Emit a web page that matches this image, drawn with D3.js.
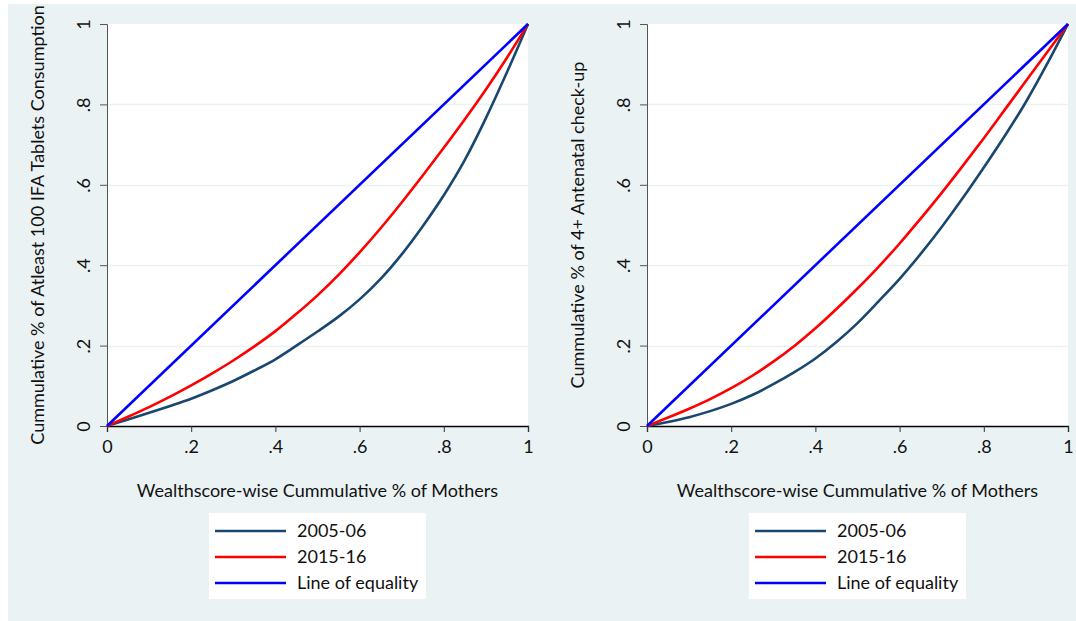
<!DOCTYPE html>
<html>
<head>
<meta charset="utf-8">
<script src="https://cdn.jsdelivr.net/npm/d3@7"></script>
<style>
  body { margin: 0; background: #fff; }
  text { font-family: Lato, "Open Sans", sans-serif; fill: #111; }
</style>
</head>
<body>
<div id="chart"></div>
<script>
// Concentration curves at steps of 0.05
const cumMothers = [0, 0.05, 0.1, 0.15, 0.2, 0.25, 0.3, 0.35, 0.4, 0.45, 0.5,
                    0.55, 0.6, 0.65, 0.7, 0.75, 0.8, 0.85, 0.9, 0.95, 1];

// left panel: IFA tablets
const ifa2005 = [0, 0.016, 0.033, 0.05, 0.068, 0.089, 0.112, 0.138, 0.166, 0.2, 0.235,
                 0.272, 0.315, 0.366, 0.427, 0.497, 0.574, 0.662, 0.766, 0.88, 1];
const ifa2015 = [0, 0.023, 0.047, 0.073, 0.101, 0.131, 0.163, 0.198, 0.236, 0.279, 0.325,
                 0.376, 0.432, 0.492, 0.556, 0.623, 0.692, 0.763, 0.837, 0.916, 1];

// right panel: 4+ ANC visits
const anc2005 = [0, 0.01, 0.022, 0.037, 0.055, 0.077, 0.104, 0.134, 0.168, 0.209, 0.256,
                 0.31, 0.366, 0.428, 0.495, 0.567, 0.643, 0.722, 0.806, 0.9, 1];
const anc2015 = [0, 0.021, 0.043, 0.067, 0.094, 0.125, 0.16, 0.199, 0.243, 0.291, 0.342,
                 0.396, 0.454, 0.516, 0.58, 0.647, 0.716, 0.787, 0.858, 0.929, 1];

const equalityX = [0, 1];
const equalityY = [0, 1];

const ticks = [0, 0.2, 0.4, 0.6, 0.8, 1];
const tickLabels = ["0", ".2", ".4", ".6", ".8", "1"];
const seriesNames = ["2005-06", "2015-16", "Line of equality"];
const seriesColors = ["#1a476f", "#ff0000", "#0000ff"];

const xTitle = "Wealthscore-wise Cummulative % of Mothers";
const yTitles = ["Cummulative % of Atleast 100 IFA Tablets Consumption",
                 "Cummulative % of 4+ Antenatal check-up"];

const width = 1076, height = 621;

const svg = d3.select("#chart").append("svg")
  .attr("width", width)
  .attr("height", height);

// graph region
svg.append("rect")
  .attr("x", 8).attr("y", 4)
  .attr("width", width - 8).attr("height", height - 4)
  .attr("fill", "#eaf2f3");

function drawPanel(offsetX, curves, yTitle) {
  const x = d3.scaleLinear().domain([0, 1]).range([107 + offsetX, 528 + offsetX]);
  const y = d3.scaleLinear().domain([0, 1]).range([426, 24]);

  const g = svg.append("g");

  // plot region
  g.append("rect")
    .attr("x", x(0)).attr("y", y(1))
    .attr("width", x(1) - x(0)).attr("height", y(0) - y(1))
    .attr("fill", "#fff");

  // gridlines
  g.selectAll(".grid")
    .data(ticks.slice(1, -1))
    .join("line")
    .attr("x1", x(0)).attr("x2", x(1))
    .attr("y1", d => Math.round(y(d)) + 0.5).attr("y2", d => Math.round(y(d)) + 0.5)
    .attr("stroke", "#eaf2f3")
    .attr("stroke-width", 1.5);

  // y axis
  const yAxis = g.append("g")
    .attr("transform", `translate(${x(0)},0)`)
    .call(d3.axisLeft(y).tickValues(ticks).tickSize(7).tickPadding(0)
      .tickFormat((d, i) => tickLabels[i]));
  yAxis.select(".domain").attr("stroke", "#555");
  yAxis.selectAll(".tick line").attr("stroke", "#555");
  yAxis.selectAll(".tick text")
    .attr("x", null).attr("dy", null)
    .attr("transform", "translate(-17,0) rotate(-90)")
    .attr("text-anchor", "middle")
    .style("font-size", "18px")
    .style("font-family", "Lato, sans-serif")
    .attr("fill", "#111");

  // x axis
  const xAxis = g.append("g")
    .attr("transform", `translate(0,${y(0)})`)
    .call(d3.axisBottom(x).tickValues(ticks).tickSize(6).tickPadding(8)
      .tickFormat((d, i) => tickLabels[i]));
  xAxis.select(".domain").attr("stroke", "#000").attr("stroke-width", 1.3);
  xAxis.selectAll(".tick line").attr("stroke", "#333");
  xAxis.selectAll(".tick text")
    .style("font-size", "18px")
    .style("font-family", "Lato, sans-serif")
    .attr("fill", "#111");

  // curves
  const line = d3.line()
    .x(d => x(d[0]))
    .y(d => y(d[1]))
    .curve(d3.curveMonotoneX);

  curves.forEach((c, i) => {
    g.append("path")
      .datum(c.xs.map((v, k) => [v, c.ys[k]]))
      .attr("d", line)
      .attr("fill", "none")
      .attr("stroke", seriesColors[i])
      .attr("stroke-width", 2.6);
  });

  // axis titles
  g.append("text")
    .attr("x", (x(0) + x(1)) / 2)
    .attr("y", 497)
    .attr("text-anchor", "middle")
    .style("font-size", "18px")
    .text(xTitle);

  g.append("text")
    .attr("transform", `translate(${44 + offsetX},${(y(0) + y(1)) / 2}) rotate(-90)`)
    .attr("text-anchor", "middle")
    .style("font-size", "18px")
    .text(yTitle);

  // legend
  const lg = g.append("g").attr("transform", `translate(${209 + offsetX},513)`);
  lg.append("rect")
    .attr("width", 217).attr("height", 86)
    .attr("fill", "#fff");
  seriesNames.forEach((name, i) => {
    const ry = 18 + i * 26;
    lg.append("line")
      .attr("x1", 6).attr("x2", 77)
      .attr("y1", ry).attr("y2", ry)
      .attr("stroke", seriesColors[i])
      .attr("stroke-width", 2.6);
    lg.append("text")
      .attr("x", 88).attr("y", ry + 6)
      .style("font-size", "18px")
      .text(name);
  });
}

drawPanel(0, [
  { xs: cumMothers, ys: ifa2005 },
  { xs: cumMothers, ys: ifa2015 },
  { xs: equalityX, ys: equalityY }
], yTitles[0]);

drawPanel(540, [
  { xs: cumMothers, ys: anc2005 },
  { xs: cumMothers, ys: anc2015 },
  { xs: equalityX, ys: equalityY }
], yTitles[1]);
</script>
</body>
</html>
